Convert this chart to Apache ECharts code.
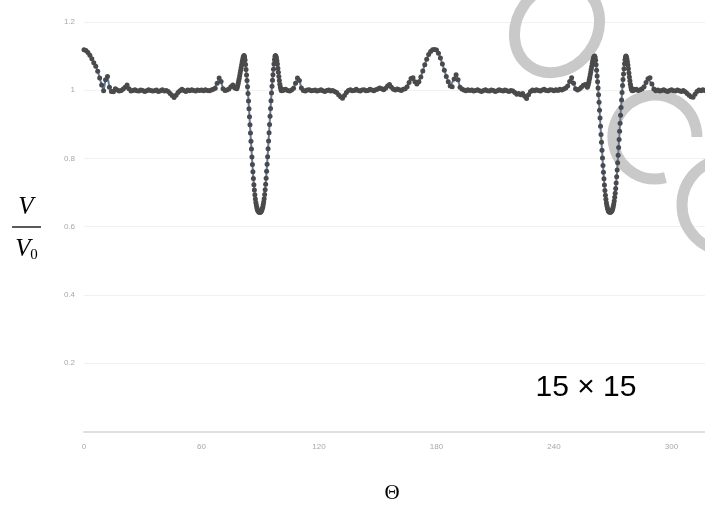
<!DOCTYPE html>
<html>
<head>
<meta charset="utf-8">
<script src="https://cdn.jsdelivr.net/npm/echarts@6/dist/echarts.min.js"></script>
<style>
html,body{margin:0;padding:0;background:#fff;}
#chart{width:705px;height:513px;}
</style>
</head>
<body>
<div id="chart"></div>
<script>
// ---- data ----
const xTicks = [0, 60, 120, 180, 240, 300, 360];
const yTicks = [0, 0.2, 0.4, 0.6, 0.8, 1, 1.2];

// segment A: 0..77 deg
const thetaA = [0,1,2,3,4,5,6,7,8,9,10,11,12,13,14,15,16,17,18,19,20,21,22,23,24,25,26,27,28,29,30,31,32,33,34,35,36,37,38,39,40,41,42,43,44,45,46,47,48,49,50,51,52,53,54,55,56,57,58,59,60,61,62,63,64,65,66,67,68,69,70,71,72,73,74,75,76,77];
const ratioA = [1.118,1.116,1.110,1.102,1.092,1.080,1.070,1.055,1.035,1.015,0.998,1.030,1.040,1.008,0.996,0.995,1.004,1.000,0.997,0.999,1.003,1.008,1.015,1.004,0.997,0.999,1.001,0.998,0.997,1.000,0.999,0.996,0.998,1.001,0.999,0.997,0.998,1.000,0.996,0.998,1.001,0.997,0.999,0.996,0.990,0.984,0.978,0.985,0.993,0.998,1.002,0.999,0.996,1.000,0.998,1.001,0.999,0.997,1.000,0.999,1.000,0.998,1.001,0.999,0.998,1.000,1.002,1.005,1.020,1.035,1.025,1.004,0.999,1.000,1.003,1.010,1.015,1.006];

// segment B: first resonance dip, 78..102 deg
const thetaB = [78,78.25,78.5,78.75,79,79.25,79.5,79.75,80,80.25,80.5,80.75,81,81.25,81.5,81.75,82,82.25,82.5,82.75,83,83.25,83.5,83.75,84,84.25,84.5,84.75,85,85.25,85.5,85.75,86,86.25,86.5,86.75,87,87.25,87.5,87.75,88,88.25,88.5,88.75,89,89.25,89.5,89.75,90,90.25,90.5,90.75,91,91.25,91.5,91.75,92,92.25,92.5,92.75,93,93.25,93.5,93.75,94,94.25,94.5,94.75,95,95.25,95.5,95.75,96,96.25,96.5,96.75,97,97.25,97.5,97.75,98,98.25,98.5,98.75,99,99.25,99.5,99.75,100,100.25,100.5,100.75,101,101.25,101.5,101.75,102];
const ratioB = [1.004,1.008,1.014,1.020,1.027,1.034,1.042,1.050,1.058,1.066,1.074,1.082,1.089,1.095,1.099,1.101,1.097,1.088,1.075,1.060,1.044,1.028,1.010,0.990,0.968,0.945,0.922,0.898,0.874,0.850,0.827,0.804,0.782,0.761,0.741,0.723,0.707,0.693,0.681,0.671,0.663,0.656,0.651,0.647,0.645,0.643,0.642,0.642,0.642,0.643,0.645,0.648,0.652,0.657,0.664,0.672,0.682,0.694,0.708,0.724,0.742,0.762,0.783,0.805,0.828,0.851,0.875,0.899,0.923,0.946,0.969,0.991,1.011,1.029,1.045,1.061,1.076,1.089,1.098,1.101,1.099,1.094,1.086,1.076,1.064,1.052,1.040,1.028,1.017,1.009,1.003,0.999,0.998,0.999,1.000,1.001,1.000];

// segment C: 103..256 deg
const thetaC = [103,104,105,106,107,108,109,110,111,112,113,114,115,116,117,118,119,120,121,122,123,124,125,126,127,128,129,130,131,132,133,134,135,136,137,138,139,140,141,142,143,144,145,146,147,148,149,150,151,152,153,154,155,156,157,158,159,160,161,162,163,164,165,166,167,168,169,170,171,172,173,174,175,176,177,178,179,180,181,182,183,184,185,186,187,188,189,190,191,192,193,194,195,196,197,198,199,200,201,202,203,204,205,206,207,208,209,210,211,212,213,214,215,216,217,218,219,220,221,222,223,224,225,226,227,228,229,230,231,232,233,234,235,236,237,238,239,240,241,242,243,244,245,246,247,248,249,250,251,252,253,254,255,256];
const ratioC = [1.002,0.999,0.997,1.000,1.005,1.020,1.035,1.028,1.006,0.999,0.997,1.000,1.001,0.998,0.999,1.000,0.997,0.999,1.001,0.998,0.996,0.999,1.000,0.997,0.999,0.996,0.993,0.986,0.980,0.976,0.984,0.993,0.999,1.001,0.998,0.999,1.002,0.999,0.997,1.000,1.001,0.998,0.999,1.002,1.000,0.998,1.001,1.003,1.006,1.004,1.001,1.005,1.012,1.016,1.008,1.002,1.000,1.003,1.001,0.999,1.002,1.004,1.010,1.022,1.034,1.036,1.024,1.018,1.024,1.038,1.056,1.074,1.090,1.104,1.113,1.118,1.119,1.117,1.108,1.094,1.076,1.058,1.040,1.024,1.012,1.010,1.032,1.045,1.030,1.008,1.003,1.000,0.998,1.001,0.999,1.000,0.997,0.999,1.001,0.998,0.996,0.999,1.001,0.998,0.997,1.000,0.999,0.996,0.998,1.001,0.999,0.997,1.000,0.998,0.996,0.999,0.997,0.993,0.988,0.990,0.986,0.990,0.982,0.975,0.986,0.996,1.000,0.998,1.001,0.999,0.997,1.000,1.002,0.999,0.998,1.001,1.000,0.998,1.001,0.999,1.002,1.000,1.003,1.006,1.012,1.025,1.036,1.020,1.004,1.000,1.003,1.008,1.014,1.016];

// segment D: second resonance dip, 257..281 deg
const thetaD = [257,257.25,257.5,257.75,258,258.25,258.5,258.75,259,259.25,259.5,259.75,260,260.25,260.5,260.75,261,261.25,261.5,261.75,262,262.25,262.5,262.75,263,263.25,263.5,263.75,264,264.25,264.5,264.75,265,265.25,265.5,265.75,266,266.25,266.5,266.75,267,267.25,267.5,267.75,268,268.25,268.5,268.75,269,269.25,269.5,269.75,270,270.25,270.5,270.75,271,271.25,271.5,271.75,272,272.25,272.5,272.75,273,273.25,273.5,273.75,274,274.25,274.5,274.75,275,275.25,275.5,275.75,276,276.25,276.5,276.75,277,277.25,277.5,277.75,278,278.25,278.5,278.75,279,279.25,279.5,279.75,280,280.25,280.5,280.75,281];
const ratioD = [1.008,1.012,1.017,1.023,1.030,1.037,1.045,1.053,1.061,1.069,1.077,1.084,1.090,1.095,1.098,1.100,1.096,1.087,1.074,1.058,1.041,1.024,1.006,0.986,0.964,0.941,0.918,0.894,0.870,0.847,0.824,0.801,0.779,0.759,0.740,0.722,0.706,0.692,0.680,0.670,0.662,0.655,0.650,0.646,0.644,0.643,0.642,0.642,0.643,0.644,0.646,0.649,0.653,0.659,0.666,0.675,0.686,0.698,0.712,0.728,0.746,0.766,0.787,0.809,0.832,0.855,0.879,0.903,0.926,0.949,0.971,0.993,1.013,1.031,1.047,1.062,1.077,1.089,1.097,1.100,1.097,1.091,1.083,1.073,1.062,1.050,1.038,1.027,1.017,1.009,1.003,1.000,0.998,0.999,1.001,1.002,1.000];

// segment E: 282..320 deg
const thetaE = [282,283,284,285,286,287,288,289,290,291,292,293,294,295,296,297,298,299,300,301,302,303,304,305,306,307,308,309,310,311,312,313,314,315,316,317,318,320];
const ratioE = [1.002,0.999,1.001,1.004,1.010,1.022,1.033,1.036,1.018,1.003,0.998,1.000,0.997,0.999,1.001,0.998,0.996,0.999,1.001,0.998,0.997,1.000,0.998,0.996,0.999,0.995,0.990,0.985,0.980,0.979,0.988,0.996,1.000,0.998,1.001,0.999,1.000,1.002];

const annotation = '15 × 15';
const xTitle = 'Θ';

// ---- build ----
const theta = thetaA.concat(thetaB, thetaC, thetaD, thetaE);
const ratio = ratioA.concat(ratioB, ratioC, ratioD, ratioE);
const seriesData = theta.map((t, i) => [t, ratio[i]]);

const chart = echarts.init(document.getElementById('chart'), null, {renderer: 'canvas'});
const wmColor = '#c9c9c9';
const option = {
  animation: false,
  backgroundColor: '#ffffff',
  grid: {left: 84, width: 705, top: 21.75, bottom: 81.5, containLabel: false, outerBoundsMode: 'none'},
  xAxis: {
    type: 'value', min: xTicks[0], max: xTicks[xTicks.length - 1], interval: 60,
    axisLine: {show: true, lineStyle: {color: '#e0e0e0', width: 2}},
    axisTick: {show: false},
    splitLine: {show: false},
    axisLabel: {color: '#a8a8a8', fontSize: 8, margin: 11, fontFamily: 'Liberation Sans'}
  },
  yAxis: {
    type: 'value', min: yTicks[0], max: yTicks[yTicks.length - 1], interval: 0.2,
    axisLine: {show: false},
    axisTick: {show: false},
    splitLine: {show: true, lineStyle: {color: '#f1f1f1', width: 1}},
    axisLabel: {color: '#a8a8a8', fontSize: 8, margin: 9, fontFamily: 'Liberation Sans',
      formatter: v => (v === 0 ? '' : String(v))}
  },
  series: [{
    type: 'line',
    data: seriesData,
    symbol: 'circle',
    symbolSize: 5,
    showSymbol: true,
    showAllSymbol: true,
    sampling: 'none',
    itemStyle: {color: '#4a4a4a', borderWidth: 0},
    lineStyle: {color: '#5f7ca6', width: 2},
    emphasis: {disabled: true},
    z: 3
  }],
  graphic: [
    // watermark glyph shapes
    {type: 'ellipse', x: 557, y: 28, rotation: -Math.PI / 5, z: 1,
      shape: {cx: 0, cy: 0, rx: 40, ry: 47},
      style: {fill: 'none', stroke: wmColor, lineWidth: 11}},
    {type: 'arc', x: 655, y: 137, z: 1,
      shape: {cx: 0, cy: 0, r: 42, startAngle: Math.PI * 0.42, endAngle: Math.PI * 2.0, clockwise: true},
      style: {fill: 'none', stroke: wmColor, lineWidth: 11}},
    {type: 'arc', x: 728, y: 205, z: 1,
      shape: {cx: 0, cy: 0, r: 46, startAngle: 0, endAngle: Math.PI * 2, clockwise: true},
      style: {fill: 'none', stroke: wmColor, lineWidth: 11}},
    // y-axis title V / V0
    {type: 'text', x: 26, y: 207, z: 10,
      style: {text: 'V', font: 'italic 25px "Liberation Serif"', fill: '#000', textAlign: 'center', textVerticalAlign: 'middle'}},
    {type: 'line', z: 10, shape: {x1: 12, y1: 227, x2: 41, y2: 227}, style: {stroke: '#000', lineWidth: 1.3}},
    {type: 'text', x: 23, y: 249, z: 10,
      style: {text: 'V', font: 'italic 25px "Liberation Serif"', fill: '#000', textAlign: 'center', textVerticalAlign: 'middle'}},
    {type: 'text', x: 34, y: 255, z: 10,
      style: {text: '0', font: '15px "Liberation Serif"', fill: '#000', textAlign: 'center', textVerticalAlign: 'middle'}},
    // x-axis title
    {type: 'text', x: 392, y: 493, z: 10,
      style: {text: xTitle, font: '21px "Liberation Serif"', fill: '#000', textAlign: 'center', textVerticalAlign: 'middle'}},
    // annotation
    {type: 'text', x: 586, y: 388, z: 10,
      style: {text: annotation, font: '30px "Liberation Sans"', fill: '#000', textAlign: 'center', textVerticalAlign: 'middle'}}
  ]
};
chart.setOption(option);
</script>
</body>
</html>
